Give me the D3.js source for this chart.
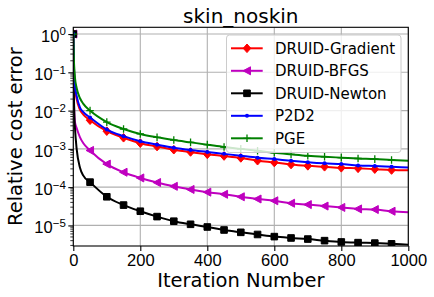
<!DOCTYPE html>
<html>
<head>
<meta charset="utf-8">
<script src="https://cdn.jsdelivr.net/npm/d3@7"></script>
<style>
  body { margin: 0; background: #fff; }
  svg { display: block; font-family: "DejaVu Sans", sans-serif; }
</style>
</head>
<body>
<svg width="434" height="297"></svg>
<script>
const iters = [0, 1, 2, 3, 5, 10, 20, 30, 50, 100, 150, 200, 250, 300, 350, 400, 450,
  500, 550, 600, 650, 700, 750, 800, 850, 900, 950, 1000]

const gradient = [1, 0.32, 0.126, 0.071, 0.04, 0.02, 0.0105, 7.9e-3, 5.6e-3, 2.9e-3, 1.95e-3,
  1.41e-3, 1.15e-3, 9.5e-4, 8.3e-4, 7.2e-4, 6.5e-4, 5.8e-4, 4.9e-4, 4.4e-4, 3.9e-4, 3.6e-4,
  3.4e-4, 3.2e-4, 3.1e-4, 2.95e-4, 2.8e-4, 2.75e-4]
const bfgs = [1, 0.063, 0.016, 8.9e-3, 5.0e-3, 3.5e-3, 2.0e-3, 1.4e-3, 9.1e-4, 4.0e-4, 2.45e-4,
  1.74e-4, 1.32e-4, 1.05e-4, 8.7e-5, 7.4e-5, 6.5e-5, 5.6e-5, 4.9e-5, 4.4e-5, 3.8e-5, 3.5e-5,
  3.2e-5, 2.95e-5, 2.7e-5, 2.6e-5, 2.35e-5, 2.2e-5]
const newton = [1, 0.1, 0.02, 7.9e-3, 3.5e-3, 1.0e-3, 3.2e-4, 2.0e-4, 1.35e-4, 5.6e-5, 3.4e-5,
  2.35e-5, 1.7e-5, 1.29e-5, 1.07e-5, 9.1e-6, 7.6e-6, 6.6e-6, 5.8e-6, 5.1e-6, 4.7e-6, 4.4e-6,
  4.0e-6, 3.7e-6, 3.55e-6, 3.45e-6, 3.3e-6, 3.15e-6]
const p2d2 = [1, 0.355, 0.141, 0.079, 0.045, 0.024, 0.012, 9.1e-3, 6.6e-3, 3.2e-3, 2.15e-3,
  1.58e-3, 1.29e-3, 1.07e-3, 9.3e-4, 8.3e-4, 7.4e-4, 6.6e-4, 5.9e-4, 5.4e-4, 4.9e-4, 4.5e-4,
  4.2e-4, 4.0e-4, 3.7e-4, 3.55e-4, 3.4e-4, 3.25e-4]
const pge = [1, 0.45, 0.195, 0.126, 0.072, 0.039, 0.021, 0.015, 0.01, 5.0e-3, 3.3e-3, 2.45e-3,
  2.0e-3, 1.7e-3, 1.48e-3, 1.29e-3, 1.12e-3, 1.0e-3, 8.9e-4, 7.9e-4, 7.2e-4, 6.6e-4, 6.2e-4,
  5.9e-4, 5.6e-4, 5.4e-4, 5.1e-4, 4.9e-4]

const names = ['DRUID-Gradient', 'DRUID-BFGS', 'DRUID-Newton', 'P2D2', 'PGE']
const colors = ['#ff0000', '#bf00bf', '#000000', '#0000ff', '#008000']
const markers = ['diamond', 'left', 'square', 'dot', 'plus']
const seriesValues = [gradient, bfgs, newton, p2d2, pge]

const xTicks = [0, 200, 400, 600, 800, 1000]
const yTicks = [1, 1e-1, 1e-2, 1e-3, 1e-4, 1e-5]
const yExp = ['0', '\u22121', '\u22122', '\u22123', '\u22124', '\u22125']

const padding = { top: 27.3, bottom: 51, left: 73.3, right: 25.7 }
const width = 434 - padding.left - padding.right
const height = 297 - padding.top - padding.bottom

const svg = d3.select('svg')

const xScale = d3.scaleLinear()
  .domain([0, 1000])
  .range([padding.left, padding.left + width])

const yScale = d3.scaleLog()
  .domain([2.9e-6, 1.5])
  .range([padding.top + height, padding.top])

svg.append('clipPath').attr('id', 'plotclip')
  .append('rect')
  .attr('x', padding.left).attr('y', padding.top)
  .attr('width', width).attr('height', height)

// grid
svg.append('g')
  .selectAll('line.gx')
  .data(xTicks)
  .enter()
  .append('line')
  .attr('x1', d => xScale(d)).attr('x2', d => xScale(d))
  .attr('y1', padding.top).attr('y2', padding.top + height)
  .attr('stroke', '#b0b0b0').attr('stroke-width', 1.1)

svg.append('g')
  .selectAll('line.gy')
  .data(yTicks)
  .enter()
  .append('line')
  .attr('x1', padding.left).attr('x2', padding.left + width)
  .attr('y1', d => yScale(d)).attr('y2', d => yScale(d))
  .attr('stroke', '#b0b0b0').attr('stroke-width', 1.1)

function markerPath(type) {
  if (type === 'diamond') return 'M0,-4.3L3.8,0L0,4.3L-3.8,0Z'
  if (type === 'left') return 'M-4,0L3.5,-4L3.5,4Z'
  if (type === 'square') return 'M-3.3,-3.3H3.3V3.3H-3.3Z'
  if (type === 'plus') return 'M-3.8,0H3.8M0,-3.8V3.8'
  return null
}

function drawMarker(g, type, color, x, y) {
  if (type === 'dot') {
    g.append('circle').attr('cx', x).attr('cy', y).attr('r', 2)
      .attr('fill', color)
    return
  }
  g.append('path')
    .attr('d', markerPath(type))
    .attr('transform', `translate(${x},${y})`)
    .attr('fill', type === 'plus' ? 'none' : color)
    .attr('stroke', color)
    .attr('stroke-width', type === 'plus' ? 1.3 : 1)
}

const line = d3.line()
  .x((d, i) => xScale(iters[i]))
  .y(d => yScale(d))
  .curve(d3.curveMonotoneX)

const plot = svg.append('g').attr('clip-path', 'url(#plotclip)')

seriesValues.forEach((vals, k) => {
  const g = plot.append('g')
  g.append('path')
    .datum(vals)
    .attr('d', line)
    .attr('fill', 'none')
    .attr('stroke', colors[k])
    .attr('stroke-width', 2)
    .attr('stroke-linejoin', 'round')
  vals.forEach((v, i) => {
    if (iters[i] % 50 === 0 && iters[i] < 1000) {
      drawMarker(g, markers[k], colors[k], xScale(iters[i]), yScale(v))
    }
  })
})

// axes
const xAxis = d3.axisBottom(xScale)
  .tickValues(xTicks)
  .tickFormat(d3.format('d'))
  .tickSizeOuter(0)
  .tickSize(5)
  .tickPadding(3)

const xax = svg.append('g')
  .attr('transform', `translate(0, ${padding.top + height})`)
  .call(xAxis)
xax.select('.domain').remove()
xax.selectAll('text').style('font-size', '16.5px').attr('fill', '#000')
xax.selectAll('line').attr('stroke-width', 1.1)

const yAxis = d3.axisLeft(yScale)
  .tickValues(yTicks)
  .tickFormat('')
  .tickSizeOuter(0)
  .tickSize(5)

const yax = svg.append('g')
  .attr('transform', `translate(${padding.left}, 0)`)
  .call(yAxis)
yax.select('.domain').remove()
yax.selectAll('line').attr('stroke-width', 1.1)

yax.selectAll('.tick')
  .append('text')
  .attr('x', -7.5)
  .attr('y', 7.4)
  .attr('text-anchor', 'end')
  .attr('fill', '#000')
  .style('font-size', '16.5px')
  .each(function(d, i) {
    const t = d3.select(this)
    t.append('tspan').text('10')
    t.append('tspan').text(yExp[i])
      .attr('dy', -6.5)
      .style('font-size', '11.5px')
  })

// minor ticks
const minorTicks = []
for (let e = -6; e <= 0; e++) {
  for (let m = 2; m <= 9; m++) {
    const v = m * Math.pow(10, e)
    if (v >= 2.9e-6 && v <= 1.5) minorTicks.push(v)
  }
}
svg.append('g')
  .selectAll('line')
  .data(minorTicks)
  .enter()
  .append('line')
  .attr('x1', padding.left - 3).attr('x2', padding.left)
  .attr('y1', d => yScale(d)).attr('y2', d => yScale(d))
  .attr('stroke', '#000').attr('stroke-width', 0.8)

// frame
svg.append('rect')
  .attr('x', padding.left).attr('y', padding.top)
  .attr('width', width).attr('height', height)
  .attr('fill', 'none').attr('stroke', '#000').attr('stroke-width', 1.1)

// legend
const lg = svg.append('g')
lg.append('rect')
  .attr('x', 226.5).attr('y', 35)
  .attr('width', 174.5).attr('height', 117.5)
  .attr('rx', 3)
  .attr('fill', '#fff').attr('fill-opacity', 0.8)
  .attr('stroke', '#cccccc').attr('stroke-width', 1)

names.forEach((name, k) => {
  const y = 48.3 + k * 22.5
  lg.append('line')
    .attr('x1', 231).attr('x2', 262.7)
    .attr('y1', y).attr('y2', y)
    .attr('stroke', colors[k]).attr('stroke-width', 2)
  drawMarker(lg, markers[k], colors[k], 247, y)
  lg.append('text')
    .attr('x', 275).attr('y', y + 5.6)
    .text(name)
    .style('font-size', '15px')
    .attr('fill', '#000')
})

// title and labels
svg.append('text')
  .text('skin_noskin')
  .attr('x', padding.left + width / 2)
  .attr('y', 22.5)
  .attr('text-anchor', 'middle')
  .style('font-size', '20px')

svg.append('text')
  .text('Iteration Number')
  .attr('x', padding.left + width / 2)
  .attr('y', 286.7)
  .attr('text-anchor', 'middle')
  .style('font-size', '19.5px')

svg.append('text')
  .text('Relative cost error')
  .attr('transform', `translate(21.5, ${padding.top + height / 2}) rotate(-90)`)
  .attr('text-anchor', 'middle')
  .style('font-size', '19.5px')
</script>
</body>
</html>
